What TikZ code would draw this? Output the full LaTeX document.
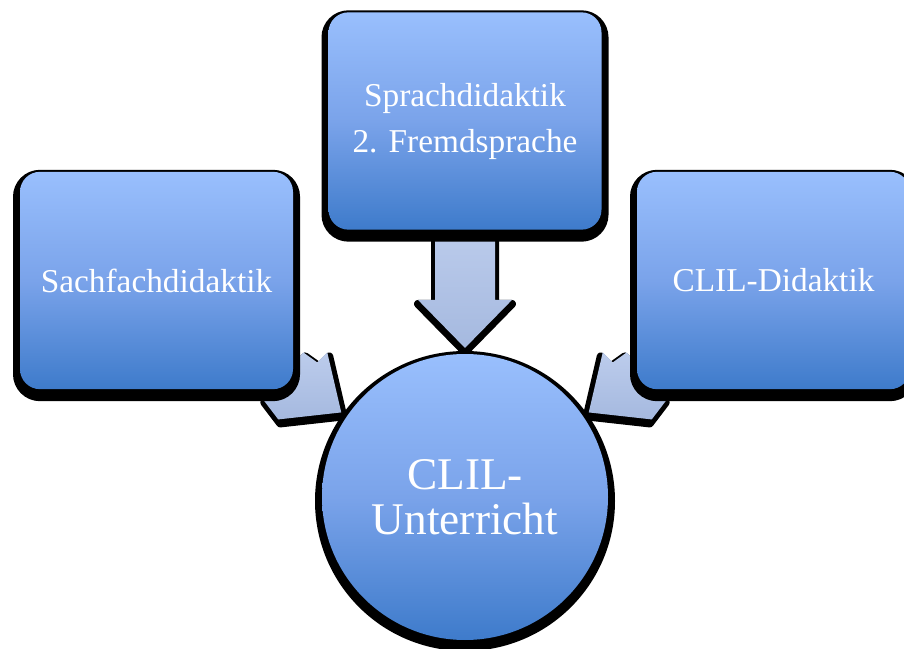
\documentclass[tikz,border=0pt]{standalone}
\usepackage{fontspec}
\setmainfont{Liberation Serif}
\usepackage{tikz}
\usetikzlibrary{shadows,calc}

\definecolor{boxtop}{RGB}{153,191,253}
\definecolor{boxmid}{RGB}{122,163,234}
\definecolor{boxbot}{RGB}{62,123,203}
\definecolor{arrtop}{RGB}{188,204,236}
\definecolor{arrbot}{RGB}{165,185,223}

\pgfdeclarelayer{arrows}
\pgfsetlayers{arrows,main}

\begin{document}
\begin{tikzpicture}[x=0.75pt,y=-0.75pt,
    didabox/.style={rectangle, rounded corners=15pt, minimum width=204.75pt, minimum height=163pt,
        top color=boxtop, bottom color=boxbot, middle color=boxmid, text=white, align=center,
        font=\fontsize{25}{34.5}\selectfont,
        general shadow={shadow yshift=-3.75pt, fill=black, draw=black, line width=10.5pt}},
    lessonball/.style={circle, minimum size=214.5pt, inner sep=0pt,
        top color=boxtop, bottom color=boxbot, middle color=boxmid, text=white, align=center,
        font=\fontsize{34}{34}\selectfont,
        general shadow={shadow yshift=-3pt, fill=black, draw=black, line width=10.5pt}},
    blockarrow/.style={top color=arrtop, bottom color=arrbot,
        general shadow={shadow xshift=#1, shadow yshift=-3pt, fill=black, draw=black,
            line width=6pt, line join=round}}]
    \path[use as bounding box, clip] (0,0) rectangle (904,649);

    % boxes
    \node[didabox] (sach) at (156.5,280.5) {Sachfachdidaktik};
    \node[didabox] (sprach) at (465,121) {Sprachdidaktik\\2. Fremdsprache};
    \node[didabox] (clild) at (773.5,280.5) {CLIL-Didaktik};

    % centre
    \node[lessonball] (clil) at (465,497) {CLIL-\\Unterricht};

    % arrows, behind everything
    \begin{pgfonlayer}{arrows}
        \path[blockarrow=0pt] (sprach.south) +(-30,-5) -- +(-30,70) -- +(-47,70) -- +(0,118)
            -- +(47,70) -- +(30,70) -- +(30,-5) -- cycle;
        \foreach \nd/\s in {sach.south east/1, clild.south west/-1} {
            \path[blockarrow=\s*1.5pt] (\nd) +(\s*10,-37) -- +(\s*24,-27) -- +(\s*34,-37)
                -- +(\s*48,23) -- +(\s*-15,30) -- +(\s*-31,9) -- cycle;
        }
    \end{pgfonlayer}
\end{tikzpicture}
\end{document}
